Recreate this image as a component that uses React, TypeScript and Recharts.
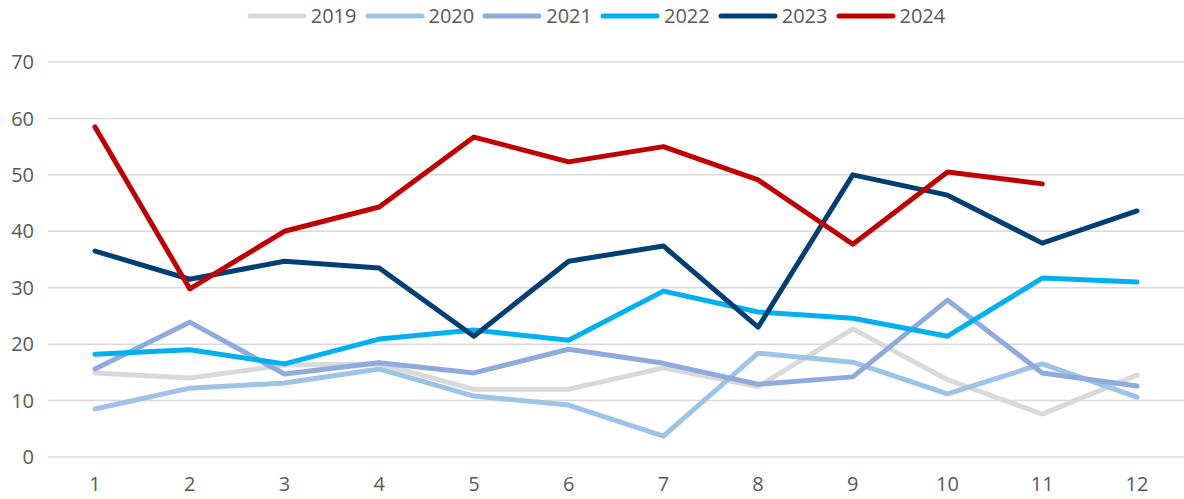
import { CartesianGrid, Line, LineChart, XAxis, YAxis } from "recharts";

const MONTHS = ["1", "2", "3", "4", "5", "6", "7", "8", "9", "10", "11", "12"];
const Y_TICKS = [0, 10, 20, 30, 40, 50, 60, 70];

const Y2019 = [14.9, 14.0, 16.3, 16.5, 12.0, 12.0, 15.8, 12.5, 22.7, 13.7, 7.6, 14.5];
const Y2020 = [8.5, 12.2, 13.1, 15.6, 10.8, 9.2, 3.7, 18.4, 16.8, 11.2, 16.5, 10.6];
const Y2021 = [15.6, 23.9, 14.7, 16.7, 14.9, 19.1, 16.6, 12.9, 14.2, 27.8, 14.9, 12.6];
const Y2022 = [18.2, 19.0, 16.5, 20.9, 22.5, 20.7, 29.4, 25.7, 24.6, 21.4, 31.7, 31.0];
const Y2023 = [36.5, 31.5, 34.7, 33.5, 21.4, 34.7, 37.4, 23.0, 50.0, 46.4, 37.9, 43.6];
const Y2024 = [58.5, 29.8, 40.0, 44.3, 56.7, 52.3, 55.0, 49.1, 37.7, 50.5, 48.4, null];

const SERIES = [
  { key: "2019", color: "#D9D9D9", values: Y2019 },
  { key: "2020", color: "#9DC3E6", values: Y2020 },
  { key: "2021", color: "#8FAADC", values: Y2021 },
  { key: "2022", color: "#00B0F0", values: Y2022 },
  { key: "2023", color: "#003F74", values: Y2023 },
  { key: "2024", color: "#C00000", values: Y2024 },
];

const data = MONTHS.map((m, i) => {
  const row: Record<string, string | number | null> = { m };
  SERIES.forEach((s) => {
    row[s.key] = s.values[i];
  });
  return row;
});

const FONT = "'Open Sans', sans-serif";
const TEXT = "#595959";

function LegendRow() {
  return (
    <div
      style={{
        position: "absolute",
        top: 4,
        left: 0,
        width: 1200,
        display: "flex",
        justifyContent: "center",
        fontFamily: FONT,
        fontSize: 20,
        color: TEXT,
        lineHeight: "24px",
      }}
    >
      {SERIES.map((s) => (
        <div key={s.key} style={{ display: "flex", alignItems: "center", marginRight: 8 }}>
          <svg width={60} height={10} style={{ marginRight: 4 }}>
            <line x1={3} y1={5} x2={57} y2={5} stroke={s.color} strokeWidth={5} strokeLinecap="round" />
          </svg>
          <span>{s.key}</span>
        </div>
      ))}
    </div>
  );
}

export default function App() {
  return (
    <div style={{ position: "absolute", left: 0, top: 0, width: 1184, height: 499, background: "#fff" }}>
      <LegendRow />
      <LineChart width={1184} height={499} data={data} margin={{ top: 62, right: 0, bottom: 0, left: 0 }}>
        <CartesianGrid horizontal vertical={false} stroke="#D9D9D9" strokeWidth={1.5} />
        <XAxis
          dataKey="m"
          axisLine={false}
          tickLine={false}
          height={42}
          tickMargin={14}
          padding={{ left: 47, right: 47 }}
          tick={{ fontSize: 20, fill: TEXT, fontFamily: FONT }}
        />
        <YAxis
          domain={[0, 70]}
          ticks={Y_TICKS}
          axisLine={false}
          tickLine={false}
          width={48}
          tickMargin={8}
          tick={{ fontSize: 20, fill: TEXT, fontFamily: FONT }}
        />
        {SERIES.map((s) => (
          <Line
            key={s.key}
            dataKey={s.key}
            type="linear"
            stroke={s.color}
            strokeWidth={5}
            strokeLinejoin="round"
            strokeLinecap="round"
            dot={false}
            activeDot={false}
            isAnimationActive={false}
          />
        ))}
      </LineChart>
    </div>
  );
}
